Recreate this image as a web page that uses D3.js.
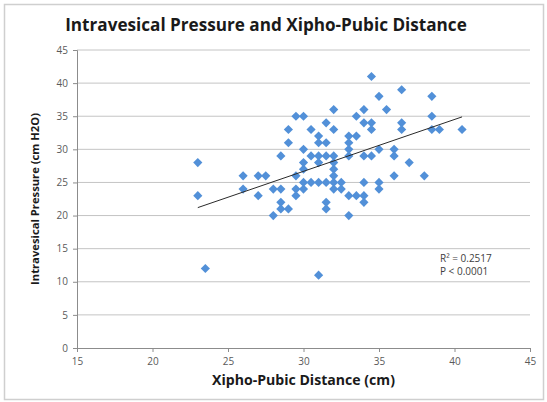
<!DOCTYPE html>
<html>
<head>
<meta charset="utf-8">
<script src="https://cdn.jsdelivr.net/npm/d3@7"></script>
<style>
  body { margin: 0; background: #fff; }
  text { font-family: "Open Sans", "Liberation Sans", sans-serif; }
</style>
</head>
<body>
<svg id="chart" width="547" height="402"></svg>
<script>
var xDistance = [23, 23, 23.5, 26, 27, 27.5, 26, 27, 28, 28.5, 28.5, 28.5, 29, 28, 28.5, 29, 29, 29.5, 30, 30.5,
    31, 31, 30, 30.5, 31, 30, 30, 29.5, 30, 30.5, 31, 29.5, 30, 29.5, 31, 34.5, 35, 36.5, 38.5, 32,
    34, 35.5, 33.5, 38.5, 31.5, 34, 34.5, 36.5, 32, 34.5, 36.5, 38.5, 39, 40.5, 33, 33.5, 31.5, 33, 33, 35,
    36, 31.5, 32, 33, 34, 34.5, 36, 31, 32, 37, 32, 32, 36, 38, 31.5, 32, 32.5, 34, 35, 32,
    32.5, 35, 33, 33.5, 34, 31.5, 34, 31.5, 33];
var yPressure = [28, 23, 12, 26, 26, 26, 24, 23, 24, 24, 22, 21, 21, 20, 29, 33, 31, 35, 35, 33,
    32, 31, 30, 29, 29, 28, 27, 26, 25, 25, 25, 24, 24, 23, 11, 41, 38, 39, 38, 36,
    36, 36, 35, 35, 34, 34, 34, 34, 33, 33, 33, 33, 33, 33, 32, 32, 31, 31, 30, 30,
    30, 29, 29, 29, 29, 29, 29, 28, 28, 28, 27, 26, 26, 26, 25, 25, 25, 25, 25, 24,
    24, 24, 23, 23, 23, 22, 22, 21, 20];

// trend line end points
var trendX = [23, 40.5];
var trendY = [21.2, 34.9];

var xTicks = [15, 20, 25, 30, 35, 40, 45];
var yTicks = [0, 5, 10, 15, 20, 25, 30, 35, 40, 45];

var titleText = "Intravesical Pressure and Xipho-Pubic Distance";
var xTitle = "Xipho-Pubic Distance (cm)";
var yTitle = "Intravesical Pressure (cm H2O)";
var statLines = ["R\u00b2 = 0.2517", "P < 0.0001"];

var svg = d3.select("#chart");

var margin = {top: 50, right: 17, bottom: 54, left: 77},
    width = 547 - margin.left - margin.right,
    height = 402 - margin.top - margin.bottom;

svg.append("rect")
    .attr("x", 4.5).attr("y", 4.5)
    .attr("width", 539).attr("height", 395)
    .attr("fill", "#fff")
    .attr("stroke", "#cfcfcf")
    .attr("stroke-width", 1.5);

var x = d3.scaleLinear().domain([15, 45]).range([0, width]);
var y = d3.scaleLinear().domain([0, 45]).range([height, 0]);

var g = svg.append("g")
    .attr("transform", "translate(" + margin.left + "," + margin.top + ")");

// gridlines
g.append("g")
    .selectAll("line")
    .data(yTicks.filter(function(d) { return d > 0; }))
    .enter().append("line")
    .attr("x1", 0).attr("x2", width)
    .attr("y1", function(d) { return y(d); })
    .attr("y2", function(d) { return y(d); })
    .attr("stroke", "#c4c4c4")
    .attr("stroke-width", 1);

var xAxis = g.append("g")
    .attr("transform", "translate(0," + height + ")")
    .call(d3.axisBottom(x).tickValues(xTicks).tickSizeOuter(0).tickSize(4).tickPadding(6));

var yAxis = g.append("g")
    .call(d3.axisLeft(y).tickValues(yTicks).tickSizeOuter(0).tickSize(4).tickPadding(5));

[xAxis, yAxis].forEach(function(a) {
    a.select(".domain").attr("stroke", "#8c8c8c");
    a.selectAll(".tick line").attr("stroke", "#8c8c8c");
    a.selectAll(".tick text")
        .attr("fill", "#5a5a5a")
        .style("font-size", "10px");
});

// points
g.append("g")
    .selectAll("path")
    .data(xDistance.map(function(d, i) { return {x: d, y: yPressure[i]}; }))
    .enter().append("path")
    .attr("d", d3.symbol().type(d3.symbolSquare).size(42))
    .attr("transform", function(d) {
        return "translate(" + x(d.x) + "," + y(d.y) + ") rotate(45)";
    })
    .attr("fill", "#5290d8");

// trend line
var line = d3.line()
    .x(function(d) { return x(d[0]); })
    .y(function(d) { return y(d[1]); });

g.append("path")
    .datum(trendX.map(function(d, i) { return [d, trendY[i]]; }))
    .attr("d", line)
    .attr("fill", "none")
    .attr("stroke", "#2a2a2a")
    .attr("stroke-width", 1);

// stats
g.append("g")
    .selectAll("text")
    .data(statLines)
    .enter().append("text")
    .attr("x", 363)
    .attr("y", function(d, i) { return 212 + i * 13; })
    .attr("fill", "#404040")
    .style("font-size", "10px")
    .text(function(d) { return d; });

function fitText(sel, target) {
    var size = parseFloat(sel.style("font-size"));
    var len = sel.node().getComputedTextLength();
    sel.style("font-size", (size * target / len) + "px");
}

var title = svg.append("text")
    .attr("x", 266).attr("y", 31)
    .attr("text-anchor", "middle")
    .attr("fill", "#1a1a1a")
    .style("font-weight", "bold")
    .style("font-size", "14px")
    .text(titleText);
fitText(title, 402);

var xt = svg.append("text")
    .attr("x", margin.left + width / 2).attr("y", 385)
    .attr("text-anchor", "middle")
    .attr("fill", "#1a1a1a")
    .style("font-weight", "bold")
    .style("font-size", "11px")
    .text(xTitle);
fitText(xt, 183);

var yt = svg.append("text")
    .attr("transform", "translate(39," + (margin.top + height / 2) + ") rotate(-90)")
    .attr("text-anchor", "middle")
    .attr("fill", "#1a1a1a")
    .style("font-weight", "bold")
    .style("font-size", "11px")
    .text(yTitle);
fitText(yt, 172);
</script>
</body>
</html>
